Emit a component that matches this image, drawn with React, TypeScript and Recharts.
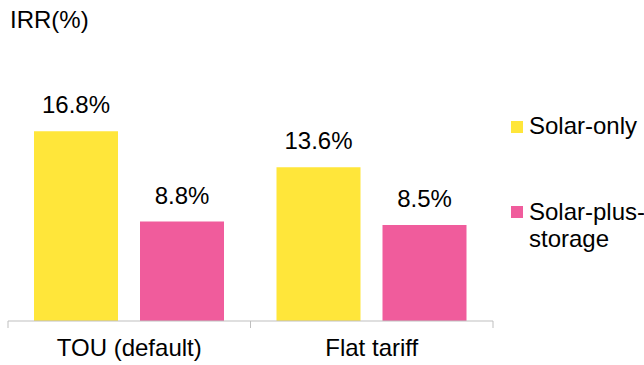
import React from "react";
import { BarChart, Bar, XAxis, YAxis, LabelList, Legend } from "recharts";

const categories = ["TOU (default)", "Flat tariff"];
const solarOnly = [16.8, 13.6];
const solarPlusStorage = [8.8, 8.5];
const seriesNames = ["Solar-only", "Solar-plus-storage"];
const seriesColors = ["#FFE63A", "#F05C9C"];

const data = categories.map((name, i) => ({
  name,
  solarOnly: solarOnly[i],
  solarPlusStorage: solarPlusStorage[i],
}));

const W = 644;
const H = 365;
const margin = { top: 95, right: 151, bottom: 14, left: 8 };
const FONT = "'Liberation Sans', Arial, sans-serif";
const FS = 24;
const TICK_SIZE = 7;
const TICK_MARGIN = 12;
const halfBand = (W - margin.left - margin.right) / categories.length / 2;

const AxisTick = (props: any) => {
  const { x, y, payload, index } = props;
  const axisY = y - TICK_SIZE - TICK_MARGIN;
  return (
    <g>
      <line x1={x - halfBand} x2={x - halfBand} y1={axisY} y2={axisY + TICK_SIZE} stroke="#BFBFBF" />
      {index === categories.length - 1 && (
        <line x1={x + halfBand} x2={x + halfBand} y1={axisY} y2={axisY + TICK_SIZE} stroke="#BFBFBF" />
      )}
      <text x={x} y={axisY + 35} textAnchor="middle" fontSize={FS} fill="#000" fontFamily={FONT}>
        {payload.value}
      </text>
    </g>
  );
};

const LegendBox = () => (
  <div style={{ fontFamily: FONT, fontSize: FS, lineHeight: "27px", color: "#000", whiteSpace: "nowrap" }}>
    <div style={{ display: "flex", alignItems: "flex-start" }}>
      <span style={{ width: 12, height: 12, background: seriesColors[0], marginTop: 9, marginRight: 6, flex: "none" }} />
      <span>{seriesNames[0]}</span>
    </div>
    <div style={{ display: "flex", alignItems: "flex-start", marginTop: 59 }}>
      <span style={{ width: 12, height: 12, background: seriesColors[1], marginTop: 8, marginRight: 6, flex: "none" }} />
      <span>Solar-plus-<br />storage</span>
    </div>
  </div>
);

export default function App() {
  return (
    <div style={{ position: "absolute", left: 0, top: 0, width: W, height: H, background: "#fff" }}>
      <div
        style={{
          position: "absolute",
          left: 10,
          top: 6,
          fontFamily: FONT,
          fontSize: FS,
          lineHeight: "27px",
          color: "#000",
        }}
      >
        IRR(%)
      </div>
      <BarChart width={W} height={H} data={data} margin={margin} barCategoryGap={26} barGap={22}>
        <XAxis
          dataKey="name"
          height={30}
          axisLine={{ stroke: "#BFBFBF" }}
          tickLine={false}
          tickSize={TICK_SIZE}
          tickMargin={TICK_MARGIN}
          tick={<AxisTick />}
          interval={0}
        />
        <YAxis hide domain={[0, 20]} />
        <Legend
          layout="horizontal"
          align="center"
          verticalAlign="middle"
          wrapperStyle={{ left: 511, top: 112, width: 133 }}
          content={<LegendBox />}
        />
        <Bar dataKey="solarOnly" name={seriesNames[0]} fill={seriesColors[0]} isAnimationActive={false}>
          <LabelList
            dataKey="solarOnly"
            position="top"
            offset={18}
            formatter={(v: any) => `${Number(v).toFixed(1)}%`}
            style={{ fontSize: FS, fill: "#000", fontFamily: FONT }}
          />
        </Bar>
        <Bar dataKey="solarPlusStorage" name={seriesNames[1]} fill={seriesColors[1]} isAnimationActive={false}>
          <LabelList
            dataKey="solarPlusStorage"
            position="top"
            offset={18}
            formatter={(v: any) => `${Number(v).toFixed(1)}%`}
            style={{ fontSize: FS, fill: "#000", fontFamily: FONT }}
          />
        </Bar>
      </BarChart>
    </div>
  );
}
